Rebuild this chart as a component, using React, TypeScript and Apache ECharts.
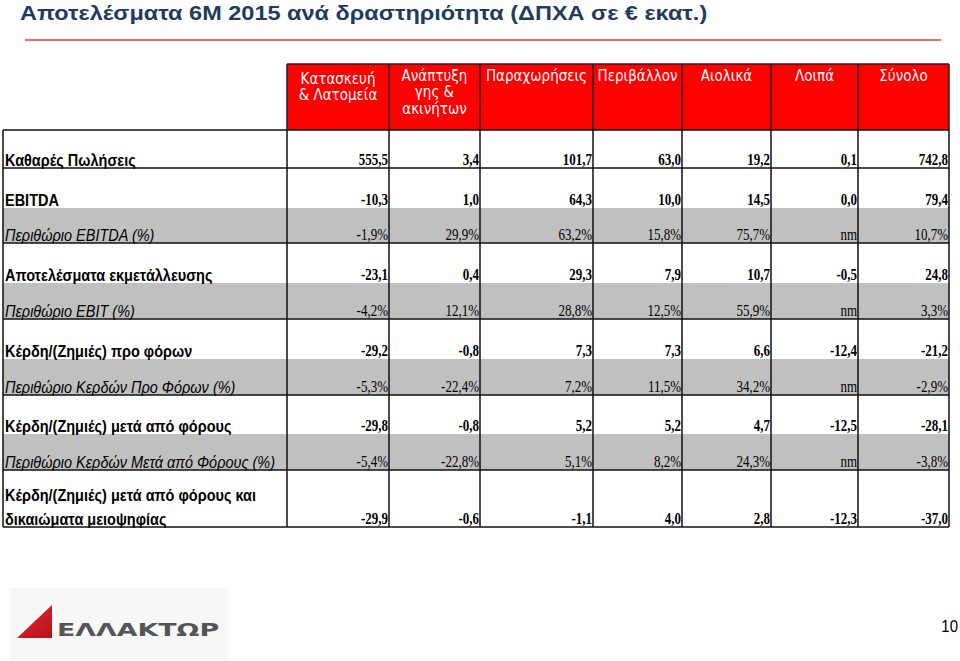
import React, { useEffect, useRef } from "react";
import * as echarts from "echarts";

// ---------- data ----------
const title = "Αποτελέσματα 6M 2015 ανά δραστηριότητα (ΔΠΧΑ σε € εκατ.)";
const columnHeaders: string[][] = [
  ["Κατασκευή", "& Λατομεία"],
  ["Ανάπτυξη", "γης &", "ακινήτων"],
  ["Παραχωρήσεις"],
  ["Περιβάλλον"],
  ["Αιολικά"],
  ["Λοιπά"],
  ["Σύνολο"],
];
const rowLabels: string[][] = [
  ["Καθαρές Πωλήσεις"],
  ["EBITDA"],
  ["Περιθώριο EBITDA (%)"],
  ["Αποτελέσματα εκμετάλλευσης"],
  ["Περιθώριο EBIT (%)"],
  ["Κέρδη/(Ζημιές) προ φόρων"],
  ["Περιθώριο Κερδών Προ Φόρων (%)"],
  ["Κέρδη/(Ζημιές) μετά από φόρους"],
  ["Περιθώριο Κερδών Μετά από Φόρους (%)"],
  ["Κέρδη/(Ζημιές) μετά από φόρους και", "δικαιώματα μειοψηφίας"],
];
const isPercentRow = [false, false, true, false, true, false, true, false, true, false];
const netSales = [555.5, 3.4, 101.7, 63.0, 19.2, 0.1, 742.8];
const ebitda = [-10.3, 1.0, 64.3, 10.0, 14.5, 0.0, 79.4];
const ebitdaMargin = [-1.9, 29.9, 63.2, 15.8, 75.7, null, 10.7];
const ebit = [-23.1, 0.4, 29.3, 7.9, 10.7, -0.5, 24.8];
const ebitMargin = [-4.2, 12.1, 28.8, 12.5, 55.9, null, 3.3];
const pbt = [-29.2, -0.8, 7.3, 7.3, 6.6, -12.4, -21.2];
const pbtMargin = [-5.3, -22.4, 7.2, 11.5, 34.2, null, -2.9];
const pat = [-29.8, -0.8, 5.2, 5.2, 4.7, -12.5, -28.1];
const patMargin = [-5.4, -22.8, 5.1, 8.2, 24.3, null, -3.8];
const patMinorities = [-29.9, -0.6, -1.1, 4.0, 2.8, -12.3, -37.0];
const rowValues: (number | null)[][] = [
  netSales, ebitda, ebitdaMargin, ebit, ebitMargin, pbt, pbtMargin, pat, patMargin, patMinorities,
];
const pageNumber = "10";
const logoText = "ΕΛΛΑΚΤΩΡ";

// ---------- layout ----------
const colEdges = [287, 389, 480, 593, 682, 771, 858, 949];
const tableLeft = 3;
const headerTop = 64;
const headerBottom = 130;
const bandEdges = [130, 168, 208, 243, 283, 319, 359, 395, 434, 470, 527];
const groupLines = [130, 168, 243, 319, 395, 470, 527];
const LABEL_SY = 1.12;
const NUM_SY = 1.28;
const HEAD_SY = 1.12;

const fmt = (v: number | null, pct: boolean) => {
  if (v === null) return "nm";
  const s = v.toFixed(1).replace(".", ",");
  return pct ? s + "%" : s;
};

export default function App() {
  const ref = useRef<HTMLDivElement>(null);
  useEffect(() => {
    if (!ref.current) return;
    const chart = echarts.init(ref.current, undefined, { renderer: "svg" });
    const g: any[] = [];
    const sans = "'Liberation Sans', Arial, sans-serif";
    const serif = "'Liberation Serif', 'Times New Roman', serif";
    const head = "'DejaVu Sans', Verdana, sans-serif";

    // title
    g.push({
      type: "text", x: 20, y: 13, scaleX: 1.12,
      style: { text: title, fill: "#1f3b5f", fontFamily: sans, fontWeight: "bold", fontSize: 21, verticalAlign: "middle" },
    });
    g.push({ type: "line", shape: { x1: 25, y1: 40, x2: 941, y2: 40 }, style: { stroke: "#dc3c3c", lineWidth: 1.5 } });

    // header cells
    g.push({
      type: "rect", shape: { x: colEdges[0], y: headerTop, width: colEdges[colEdges.length - 1] - colEdges[0], height: headerBottom - headerTop },
      style: { fill: "#ff0000" },
    });
    columnHeaders.forEach((lines, i) => {
      const cx = (colEdges[i] + colEdges[i + 1]) / 2;
      const startBase = i === 0 ? 84 : 81;
      lines.forEach((ln, k) => {
        g.push({
          type: "text", x: cx, y: startBase + k * 16.5 - 5.5, scaleY: HEAD_SY,
          style: { text: ln, fill: "#ffffff", fontFamily: head, fontSize: 13.5, align: "center", verticalAlign: "middle" },
        });
      });
    });
    g.push({ type: "line", shape: { x1: colEdges[0], y1: headerTop, x2: colEdges[colEdges.length - 1], y2: headerTop }, style: { stroke: "#222", lineWidth: 1.5 } });
    colEdges.forEach((x) => {
      g.push({ type: "line", shape: { x1: x, y1: headerTop, x2: x, y2: headerBottom }, style: { stroke: "#222", lineWidth: 1.5 } });
    });

    // gray bands
    isPercentRow.forEach((p, r) => {
      if (!p) return;
      g.push({
        type: "rect", shape: { x: tableLeft, y: bandEdges[r], width: colEdges[colEdges.length - 1] - tableLeft, height: bandEdges[r + 1] - bandEdges[r] },
        style: { fill: "#c0c0c0" },
      });
    });

    // rows
    rowLabels.forEach((lines, r) => {
      const base = bandEdges[r + 1] - 2.5;
      const pct = isPercentRow[r];
      lines.forEach((ln, k) => {
        const b = base - (lines.length - 1 - k) * 24;
        g.push({
          type: "text", x: 5, y: b - 5.8, scaleY: LABEL_SY,
          style: {
            text: ln, fill: "#000", fontFamily: sans, fontSize: 14.5,
            fontWeight: pct ? "normal" : "bold", fontStyle: pct ? "italic" : "normal",
            align: "left", verticalAlign: "middle",
          },
        });
      });
      rowValues[r].forEach((v, c) => {
        g.push({
          type: "text", x: colEdges[c + 1] - 1, y: base - 5.8, scaleY: NUM_SY,
          style: {
            text: fmt(v, pct), fill: "#000", fontFamily: serif, fontSize: 13,
            fontWeight: pct ? "normal" : "bold", align: "right", verticalAlign: "middle",
          },
        });
      });
    });

    // grid lines
    groupLines.forEach((y) => {
      g.push({ type: "line", shape: { x1: tableLeft, y1: y, x2: colEdges[colEdges.length - 1], y2: y }, style: { stroke: "#111", lineWidth: 1.5 } });
    });
    [tableLeft, ...colEdges].forEach((x) => {
      g.push({ type: "line", shape: { x1: x, y1: headerBottom, x2: x, y2: bandEdges[bandEdges.length - 1] }, style: { stroke: "#111", lineWidth: 1.5 } });
    });

    // logo
    g.push({ type: "rect", shape: { x: 10, y: 588, width: 218, height: 72 }, style: { fill: "#f7f7f7" } });
    g.push({
      type: "polygon", shape: { points: [[17, 638], [52, 605], [52, 638]] },
      style: {
        fill: new echarts.graphic.LinearGradient(0, 0, 1, 1, [
          { offset: 0, color: "#e8262a" },
          { offset: 1, color: "#b5141a" },
        ]),
      },
    });
    g.push({
      type: "text", x: 57, y: 630, scaleX: 1.49,
      style: { text: logoText, fill: "#555555", fontFamily: "'DejaVu Sans', sans-serif", fontWeight: "bold", fontSize: 18, verticalAlign: "middle" },
    });

    // page number
    g.push({
      type: "text", x: 958, y: 626, scaleY: 1.15,
      style: { text: pageNumber, fill: "#000", fontFamily: sans, fontSize: 15, align: "right", verticalAlign: "middle" },
    });

    chart.setOption({ animation: false, backgroundColor: "#ffffff", graphic: { elements: g } });
    return () => chart.dispose();
  }, []);
  return <div ref={ref} style={{ position: "fixed", left: 0, top: 0, width: 960, height: 661 }} />;
}
